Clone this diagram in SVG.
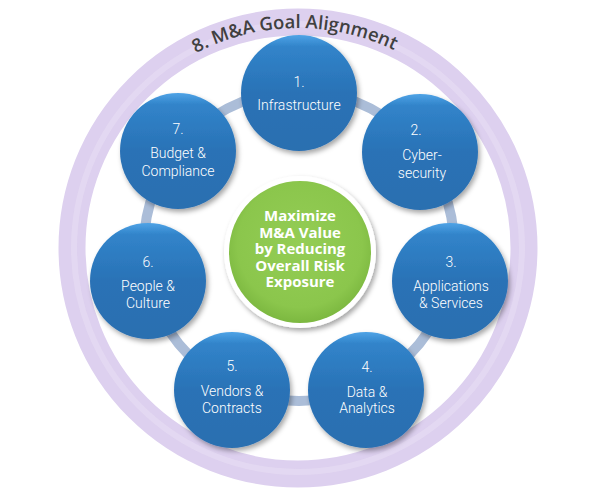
<svg xmlns="http://www.w3.org/2000/svg" width="592" height="498" viewBox="0 0 592 498">
<defs>
<linearGradient id="blue" x1="0" y1="0" x2="0" y2="1">
<stop offset="0" stop-color="#4fa3e6"/>
<stop offset="0.1" stop-color="#3184ca"/>
<stop offset="0.5" stop-color="#2a72b6"/>
<stop offset="1" stop-color="#2b6fb0"/>
</linearGradient>
<radialGradient id="green" cx="0.5" cy="0.45" r="0.55">
<stop offset="0" stop-color="#94cd55"/>
<stop offset="0.8" stop-color="#8bc64c"/>
<stop offset="1" stop-color="#7cb840"/>
</radialGradient>
<filter id="sh" x="-30%" y="-30%" width="160%" height="160%">
<feDropShadow dx="2" dy="3" stdDeviation="2.5" flood-color="#000" flood-opacity="0.35"/>
</filter>
<path id="arc" d="M78,248 A220,220 0 0 1 518,248"/>
</defs>
<style>
.node{fill:url(#blue);filter:url(#sh)}
.lbl{font-family:Roboto,"Liberation Sans",sans-serif;font-weight:300;font-size:14px;fill:#ffffff;text-anchor:middle}
.ctr{font-family:"Open Sans","Liberation Sans",sans-serif;font-weight:700;font-size:15px;fill:#ffffff;text-anchor:middle}
</style>
<g id="outer-ring">
<circle cx="298" cy="248" r="226" fill="none" stroke="#ddd0ef" stroke-width="27"/>
<circle cx="298" cy="248" r="224" fill="none" stroke="#e7def4" stroke-width="6" opacity="0.6"/>
<text font-family="'Open Sans','Liberation Sans',sans-serif" font-weight="600" font-size="18.5" fill="#404040" text-anchor="middle"><textPath href="#arc" startOffset="49.5%">8. M&amp;A Goal Alignment</textPath></text>
</g>
<g id="connectors">
<circle cx="299" cy="246" r="155" fill="none" stroke="#abbdd8" stroke-width="10"/>
</g>
<g id="node1">
<circle class="node" cx="299" cy="93" r="58"/>
<text class="lbl" x="299" y="87">1.</text>
<text class="lbl" x="299" y="110">Infrastructure</text>
</g>
<g id="node2">
<circle class="node" cx="420" cy="152" r="58"/>
<text class="lbl" x="416" y="135">2.</text>
<text class="lbl" x="422" y="160">Cyber-</text>
<text class="lbl" x="422" y="178">security</text>
</g>
<g id="node3">
<circle class="node" cx="450" cy="281" r="58"/>
<text class="lbl" x="451" y="267">3.</text>
<text class="lbl" x="451" y="291">Applications</text>
<text class="lbl" x="451" y="308">&amp; Services</text>
</g>
<g id="node4">
<circle class="node" cx="366" cy="390" r="58"/>
<text class="lbl" x="367" y="372">4.</text>
<text class="lbl" x="367" y="397">Data &amp;</text>
<text class="lbl" x="367" y="413">Analytics</text>
</g>
<g id="node5">
<circle class="node" cx="232" cy="390" r="58"/>
<text class="lbl" x="232" y="371">5.</text>
<text class="lbl" x="232" y="396">Vendors &amp;</text>
<text class="lbl" x="232" y="413">Contracts</text>
</g>
<g id="node6">
<circle class="node" cx="148" cy="281" r="58"/>
<text class="lbl" x="148" y="267">6.</text>
<text class="lbl" x="148" y="291">People &amp;</text>
<text class="lbl" x="148" y="308">Culture</text>
</g>
<g id="node7">
<circle class="node" cx="178" cy="151" r="58"/>
<text class="lbl" x="178" y="134">7.</text>
<text class="lbl" x="178" y="158">Budget &amp;</text>
<text class="lbl" x="178" y="176">Compliance</text>
</g>
<g id="center">
<circle cx="300" cy="252" r="76" fill="#ffffff" filter="url(#sh)"/>
<circle cx="300" cy="252" r="71" fill="url(#green)"/>
<text class="ctr" x="300" y="221">Maximize</text>
<text class="ctr" x="300" y="237.5">M&amp;A Value</text>
<text class="ctr" x="300" y="254">by Reducing</text>
<text class="ctr" x="300" y="270.5">Overall Risk</text>
<text class="ctr" x="300" y="287">Exposure</text>
</g>
</svg>
